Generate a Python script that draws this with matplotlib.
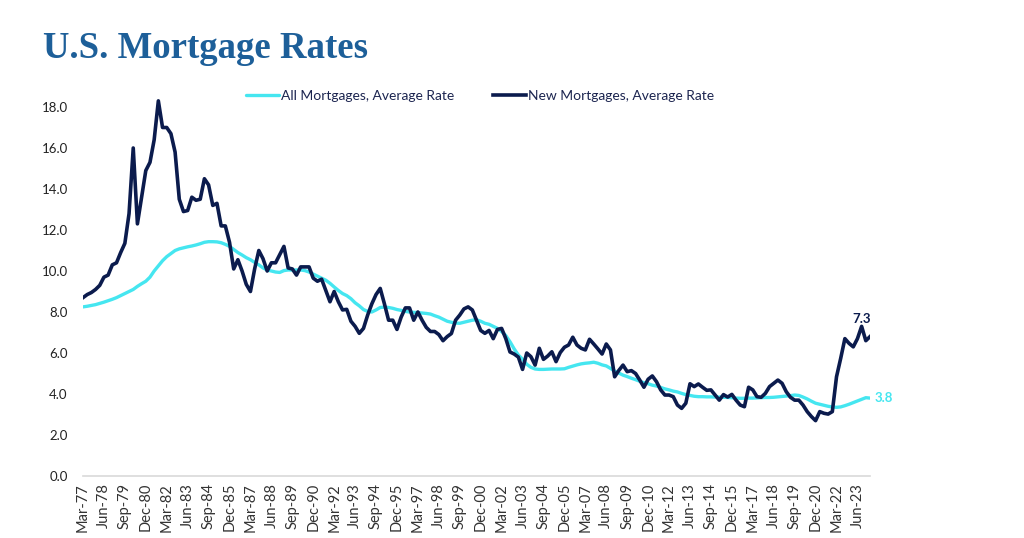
import matplotlib
matplotlib.use("Agg")
import matplotlib.pyplot as plt
import numpy as np

# quarterly data, Mar-77 .. Mar-24
new_rate = [
    8.7, 8.85, 8.95, 9.1, 9.3, 9.7, 9.8, 10.3, 10.4, 10.9,
    11.35, 12.8, 16.0, 12.3, 13.6, 14.9, 15.3, 16.4, 18.3, 17.0,
    17.0, 16.7, 15.8, 13.5, 12.9, 12.95, 13.6, 13.45, 13.5, 14.5,
    14.2, 13.2, 13.3, 12.2, 12.2, 11.4, 10.1, 10.55, 10.0, 9.35,
    9.0, 10.1, 11.0, 10.6, 10.0, 10.4, 10.4, 10.8, 11.2, 10.15,
    10.1, 9.8, 10.2, 10.2, 10.2, 9.65, 9.5, 9.6, 9.05, 8.5,
    9.0, 8.5, 8.1, 8.13, 7.55, 7.3, 6.96, 7.2, 7.85, 8.4,
    8.85, 9.15, 8.4, 7.6, 7.6, 7.15, 7.75, 8.2, 8.2, 7.6,
    8.0, 7.6, 7.25, 7.05, 7.05, 6.9, 6.6, 6.8, 6.95, 7.6,
    7.85, 8.15, 8.25, 8.1, 7.6, 7.1, 6.96, 7.1, 6.7, 7.15,
    7.2, 6.7, 6.05, 5.95, 5.8, 5.2, 6.0, 5.82, 5.41, 6.23,
    5.69, 5.85, 6.06, 5.58, 6.02, 6.28, 6.39, 6.77, 6.39, 6.23,
    6.15, 6.67, 6.44, 6.2, 5.95, 6.44, 6.15, 4.84, 5.15, 5.41,
    5.09, 5.14, 5.0, 4.68, 4.33, 4.72, 4.88, 4.6, 4.2, 3.95,
    3.95, 3.87, 3.46, 3.3, 3.55, 4.5, 4.36, 4.49, 4.33, 4.18,
    4.2, 3.95, 3.7, 3.97, 3.85, 3.98, 3.7, 3.46, 3.38, 4.33,
    4.2, 3.87, 3.84, 4.03, 4.36, 4.52, 4.68, 4.52, 4.11, 3.84,
    3.7, 3.7, 3.46, 3.14, 2.9, 2.7, 3.14, 3.06, 3.02, 3.14,
    4.84, 5.74, 6.7, 6.47, 6.3, 6.7, 7.3, 6.6, 6.8,
]

all_rate = [
    8.25, 8.28, 8.32, 8.36, 8.42, 8.48, 8.55, 8.62, 8.7, 8.8,
    8.9, 9.0, 9.1, 9.25, 9.38, 9.5, 9.7, 10.0, 10.25, 10.5,
    10.7, 10.85, 11.0, 11.08, 11.13, 11.18, 11.22, 11.27, 11.33, 11.4,
    11.43, 11.43, 11.42, 11.38, 11.3, 11.2, 11.05, 10.9, 10.78, 10.65,
    10.55, 10.42, 10.3, 10.15, 10.05, 10.0, 9.95, 9.93, 10.02, 10.05,
    10.05, 10.05, 10.05, 10.02, 9.95, 9.85, 9.75, 9.65, 9.55, 9.4,
    9.22, 9.05, 8.9, 8.8, 8.65, 8.45, 8.3, 8.12, 8.03, 8.0,
    8.1, 8.22, 8.24, 8.22, 8.18, 8.12, 8.08, 8.03, 8.0, 7.98,
    7.97, 7.95, 7.93, 7.9, 7.82, 7.75, 7.65, 7.55, 7.5, 7.46,
    7.45, 7.5, 7.55, 7.6, 7.62, 7.55, 7.45, 7.4, 7.3, 7.2,
    7.05, 6.85, 6.55, 6.2, 5.9, 5.7, 5.45, 5.3, 5.22, 5.2,
    5.2, 5.21, 5.22, 5.22, 5.22, 5.23, 5.3, 5.36, 5.42, 5.47,
    5.5, 5.52, 5.55, 5.5, 5.42, 5.37, 5.25, 5.12, 5.02, 4.92,
    4.85, 4.77, 4.7, 4.62, 4.55, 4.5, 4.43, 4.39, 4.32, 4.25,
    4.2, 4.14, 4.1, 4.03, 3.97, 3.93, 3.89, 3.87, 3.87, 3.86,
    3.86, 3.85, 3.85, 3.84, 3.83, 3.82, 3.8, 3.79, 3.79, 3.8,
    3.8, 3.81, 3.82, 3.83, 3.83, 3.84, 3.86, 3.88, 3.9, 3.92,
    3.95, 3.93, 3.85, 3.76, 3.65, 3.55, 3.5, 3.45, 3.4, 3.37,
    3.35, 3.37, 3.43, 3.5, 3.58, 3.66, 3.74, 3.82, 3.8,
]

tick_labels = [
    "Mar-77", "Jun-78", "Sep-79", "Dec-80", "Mar-82", "Jun-83", "Sep-84",
    "Dec-85", "Mar-87", "Jun-88", "Sep-89", "Dec-90", "Mar-92", "Jun-93",
    "Sep-94", "Dec-95", "Mar-97", "Jun-98", "Sep-99", "Dec-00", "Mar-02",
    "Jun-03", "Sep-04", "Dec-05", "Mar-07", "Jun-08", "Sep-09", "Dec-10",
    "Mar-12", "Jun-13", "Sep-14", "Dec-15", "Mar-17", "Jun-18", "Sep-19",
    "Dec-20", "Mar-22", "Jun-23",
]
y_ticks = [0, 2, 4, 6, 8, 10, 12, 14, 16, 18]

NAVY = "#0b1b4d"
CYAN = "#45e6f0"
TEXT = "#1c2550"

fig = plt.figure(figsize=(10.24, 5.38), dpi=100)
ax = fig.add_axes([83 / 1024, 1 - 476 / 538, (870 - 83) / 1024, (476 - 86.5) / 538])

x = np.arange(len(new_rate))
ax.plot(x, all_rate, color=CYAN, lw=2.4, solid_capstyle="round",
        label="All Mortgages, Average Rate", zorder=2)
ax.plot(x, new_rate, color=NAVY, lw=2.6, solid_joinstyle="round",
        label="New Mortgages, Average Rate", zorder=3)

ax.set_xlim(0, len(new_rate) - 1)
ax.set_ylim(0, 19)
ax.set_yticks(y_ticks)
ax.set_yticklabels([f"{v:.1f}" for v in y_ticks], family="Lato", fontsize=9.5, color="#222222")
ax.set_xticks(np.arange(0, 5 * len(tick_labels), 5))
ax.set_xticklabels(tick_labels, rotation=90, family="Lato", fontsize=10.5, color="#333333")
ax.tick_params(axis="y", length=0, pad=11)
ax.tick_params(axis="x", length=0, pad=5)
for s in ["top", "right", "left"]:
    ax.spines[s].set_visible(False)
ax.spines["bottom"].set_color("#d9d9d9")
ax.spines["bottom"].set_linewidth(1.2)

# end labels
ax.annotate(f"{new_rate[-3]:.1f}", (x[-3], new_rate[-3]), xytext=(0, 1),
            textcoords="offset points", ha="center", va="bottom",
            color=NAVY, fontsize=9.5, fontweight="bold", family="Lato")
ax.annotate(f"{all_rate[-1]:.1f}", (x[-1], all_rate[-1]), xytext=(3, 0),
            textcoords="offset points", ha="left", va="center",
            color=CYAN, fontsize=9.5, fontweight="bold", family="Lato",
            annotation_clip=False)

leg = fig.legend(loc="center", bbox_to_anchor=(480 / 1024, 1 - 96 / 538), ncol=2,
                 frameon=False, handlelength=2.4, handletextpad=0.1,
                 columnspacing=2.8, prop={"family": "Lato", "size": 10})
for t in leg.get_texts():
    t.set_color(TEXT)

fig.text(43 / 1024, 1 - 58 / 538, "U.S. Mortgage Rates", family="Liberation Serif",
         fontweight="bold", fontsize=26.5, color="#1d5f99", ha="left", va="baseline")

fig.savefig("out.png", dpi=100, facecolor="white")
